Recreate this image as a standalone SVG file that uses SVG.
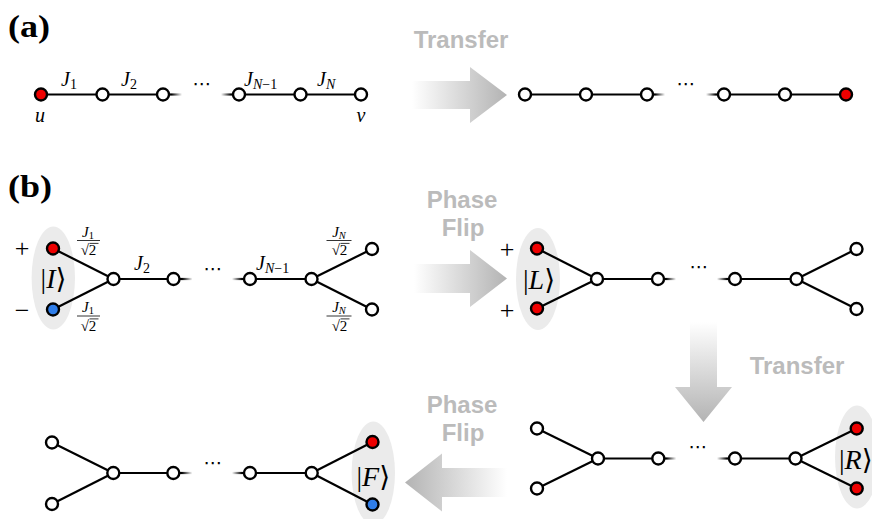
<svg xmlns="http://www.w3.org/2000/svg" width="872" height="519" viewBox="0 0 872 519">
<style>
.n{fill:#fff;stroke:#000;stroke-width:2.4}
.r{fill:#ee0000;stroke:#000;stroke-width:2.4}
.b{fill:#2f7de8;stroke:#000;stroke-width:2.4}
.e{stroke:#000;stroke-width:2.2;fill:none}
.ell{fill:#ebebeb}
.t{font-family:"Liberation Sans",Arial,sans-serif;font-weight:bold;font-size:24px;fill:#bbbbbb;text-anchor:middle}
.m{font-family:"Liberation Serif","Times New Roman","DejaVu Serif",serif;font-style:italic;fill:#000}
.rm{font-style:normal}
.lbl{font-family:"Liberation Serif","Times New Roman",serif;font-weight:bold;font-size:31px}
.dots{font-family:"DejaVu Sans",sans-serif;font-size:19px;text-anchor:middle}
.fb{stroke:#000;stroke-width:0.8}
</style>
<defs>
<linearGradient id="gRight" x1="0" y1="0" x2="1" y2="0"><stop offset="0" stop-color="#ffffff"/><stop offset="1" stop-color="#b3b3b3"/></linearGradient>
<linearGradient id="gLeft" x1="0" y1="0" x2="1" y2="0"><stop offset="0" stop-color="#b3b3b3"/><stop offset="1" stop-color="#ffffff"/></linearGradient>
<linearGradient id="gDown" x1="0" y1="0" x2="0" y2="1"><stop offset="0" stop-color="#ffffff"/><stop offset="1" stop-color="#b3b3b3"/></linearGradient>
<linearGradient id="fOut" x1="0" y1="0" x2="1" y2="0"><stop offset="0" stop-color="#000" stop-opacity="1"/><stop offset="0.45" stop-color="#000" stop-opacity="1"/><stop offset="1" stop-color="#000" stop-opacity="0"/></linearGradient>
<linearGradient id="fIn" x1="0" y1="0" x2="1" y2="0"><stop offset="0" stop-color="#000" stop-opacity="0"/><stop offset="0.55" stop-color="#000" stop-opacity="1"/><stop offset="1" stop-color="#000" stop-opacity="1"/></linearGradient>
</defs>
<rect width="872" height="519" fill="#fff"/>

<!-- panel labels -->
<text class="lbl" x="8" y="37" textLength="42" lengthAdjust="spacingAndGlyphs">(a)</text>
<text class="lbl" x="8" y="197" textLength="44" lengthAdjust="spacingAndGlyphs">(b)</text>

<!-- process arrows -->
<g id="arrows">
<polygon points="412,81 470,81 470,67 507,95 470,123 470,109 412,109" fill="url(#gRight)"/>
<polygon points="414,264 470,264 470,250 507,278.5 470,307 470,293 414,293" fill="url(#gRight)"/>
<polygon points="690,322 717,322 717,387 732,387 703.5,422 675,387 690,387" fill="url(#gDown)"/>
<polygon points="507,468 442,468 442,453.5 405,482.5 442,511.5 442,497 507,497" fill="url(#gLeft)"/>
<text class="t" x="461" y="48">Transfer</text>
<text class="t" x="462" y="208">Phase</text>
<text class="t" x="463" y="236">Flip</text>
<text class="t" x="797" y="374">Transfer</text>
<text class="t" x="462" y="413">Phase</text>
<text class="t" x="463" y="441">Flip</text>
</g>

<!-- state ellipses -->
<g id="states">
<ellipse class="ell" cx="53.3" cy="278" rx="21.7" ry="51.5"/>
<ellipse class="ell" cx="538" cy="279" rx="22" ry="51"/>
<ellipse class="ell" cx="857" cy="457" rx="22" ry="51.5"/>
<ellipse class="ell" cx="373.3" cy="473" rx="21.7" ry="51.5"/>
</g>

<!-- connectors -->
<g id="connectors">
<line class="e" x1="41" y1="94.5" x2="163" y2="94.5"/>
<rect x="163" y="93.4" width="19" height="2.2" fill="url(#fOut)"/>
<rect x="221" y="93.4" width="18" height="2.2" fill="url(#fIn)"/>
<line class="e" x1="239" y1="94.5" x2="361" y2="94.5"/>
<line class="e" x1="525" y1="94.5" x2="647" y2="94.5"/>
<rect x="647" y="93.4" width="18" height="2.2" fill="url(#fOut)"/>
<rect x="706" y="93.4" width="18" height="2.2" fill="url(#fIn)"/>
<line class="e" x1="724" y1="94.5" x2="846" y2="94.5"/>
<line class="e" x1="53" y1="248.5" x2="113.5" y2="279"/>
<line class="e" x1="53" y1="309.5" x2="113.5" y2="279"/>
<line class="e" x1="113.5" y1="279" x2="173.5" y2="279"/>
<rect x="173.5" y="277.9" width="19" height="2.2" fill="url(#fOut)"/>
<rect x="232" y="277.9" width="18" height="2.2" fill="url(#fIn)"/>
<line class="e" x1="250" y1="279" x2="311.5" y2="279"/>
<line class="e" x1="311.5" y1="279" x2="372" y2="249"/>
<line class="e" x1="311.5" y1="279" x2="372" y2="309.5"/>
<line class="e" x1="537" y1="248.5" x2="597" y2="279"/>
<line class="e" x1="537" y1="308.5" x2="597" y2="279"/>
<line class="e" x1="597" y1="279" x2="658" y2="279"/>
<rect x="658" y="277.9" width="18" height="2.2" fill="url(#fOut)"/>
<rect x="717" y="277.9" width="18" height="2.2" fill="url(#fIn)"/>
<line class="e" x1="735" y1="279" x2="796.5" y2="279"/>
<line class="e" x1="796.5" y1="279" x2="856.5" y2="249"/>
<line class="e" x1="796.5" y1="279" x2="856.5" y2="309"/>
<line class="e" x1="537" y1="428.5" x2="598" y2="458.5"/>
<line class="e" x1="537" y1="488.5" x2="598" y2="458.5"/>
<line class="e" x1="598" y1="458.5" x2="658.3" y2="458.5"/>
<rect x="658.3" y="457.4" width="18" height="2.2" fill="url(#fOut)"/>
<rect x="717" y="457.4" width="18" height="2.2" fill="url(#fIn)"/>
<line class="e" x1="735" y1="458.5" x2="795.5" y2="458.5"/>
<line class="e" x1="795.5" y1="458.5" x2="856.7" y2="428.5"/>
<line class="e" x1="795.5" y1="458.5" x2="856.7" y2="488.5"/>
<line class="e" x1="52" y1="442.5" x2="113.3" y2="473"/>
<line class="e" x1="52" y1="504" x2="113.3" y2="473"/>
<line class="e" x1="113.3" y1="473" x2="173.3" y2="473"/>
<rect x="173.3" y="471.9" width="19" height="2.2" fill="url(#fOut)"/>
<rect x="232" y="471.9" width="18" height="2.2" fill="url(#fIn)"/>
<line class="e" x1="250" y1="473" x2="311.7" y2="473"/>
<line class="e" x1="311.7" y1="473" x2="372.5" y2="442"/>
<line class="e" x1="311.7" y1="473" x2="372.5" y2="504.5"/>
</g>

<!-- nodes (a) -->
<g id="a1"><circle class="r" cx="41" cy="94.5" r="6"/></g>
<g id="a2"><circle class="n" cx="102.5" cy="94.5" r="6"/></g>
<g id="a3"><circle class="n" cx="163" cy="94.5" r="6"/></g>
<g id="a4"><circle class="n" cx="239" cy="94.5" r="6"/></g>
<g id="a5"><circle class="n" cx="300.5" cy="94.5" r="6"/></g>
<g id="a6"><circle class="n" cx="361" cy="94.5" r="6"/></g>
<g id="a7"><circle class="n" cx="525" cy="94.5" r="6"/></g>
<g id="a8"><circle class="n" cx="586" cy="94.5" r="6"/></g>
<g id="a9"><circle class="n" cx="647" cy="94.5" r="6"/></g>
<g id="a10"><circle class="n" cx="724" cy="94.5" r="6"/></g>
<g id="a11"><circle class="n" cx="785" cy="94.5" r="6"/></g>
<g id="a12"><circle class="r" cx="846" cy="94.5" r="6"/></g>

<!-- nodes (b) top-left -->
<g id="b1"><circle class="r" cx="53" cy="248.5" r="6"/></g>
<g id="b2"><circle class="b" cx="53" cy="309.5" r="6"/></g>
<g id="b3"><circle class="n" cx="113.5" cy="279" r="6"/></g>
<g id="b4"><circle class="n" cx="173.5" cy="279" r="6"/></g>
<g id="b5"><circle class="n" cx="250" cy="279" r="6"/></g>
<g id="b6"><circle class="n" cx="311.5" cy="279" r="6"/></g>
<g id="b7"><circle class="n" cx="372" cy="249" r="6"/></g>
<g id="b8"><circle class="n" cx="372" cy="309.5" r="6"/></g>

<!-- nodes (b) top-right -->
<g id="c1"><circle class="r" cx="537" cy="248.5" r="6"/></g>
<g id="c2"><circle class="r" cx="537" cy="308.5" r="6"/></g>
<g id="c3"><circle class="n" cx="597" cy="279" r="6"/></g>
<g id="c4"><circle class="n" cx="658" cy="279" r="6"/></g>
<g id="c5"><circle class="n" cx="735" cy="279" r="6"/></g>
<g id="c6"><circle class="n" cx="796.5" cy="279" r="6"/></g>
<g id="c7"><circle class="n" cx="856.5" cy="249" r="6"/></g>
<g id="c8"><circle class="n" cx="856.5" cy="309" r="6"/></g>

<!-- nodes (b) bottom-right -->
<g id="d1"><circle class="n" cx="537" cy="428.5" r="6"/></g>
<g id="d2"><circle class="n" cx="537" cy="488.5" r="6"/></g>
<g id="d3"><circle class="n" cx="598" cy="458.5" r="6"/></g>
<g id="d4"><circle class="n" cx="658.3" cy="458.5" r="6"/></g>
<g id="d5"><circle class="n" cx="735" cy="458.5" r="6"/></g>
<g id="d6"><circle class="n" cx="795.5" cy="458.5" r="6"/></g>
<g id="d7"><circle class="r" cx="856.7" cy="428.5" r="6"/></g>
<g id="d8"><circle class="r" cx="856.7" cy="488.5" r="6"/></g>

<!-- nodes (b) bottom-left -->
<g id="e1"><circle class="n" cx="52" cy="442.5" r="6"/></g>
<g id="e2"><circle class="n" cx="52" cy="504" r="6"/></g>
<g id="e3"><circle class="n" cx="113.3" cy="473" r="6"/></g>
<g id="e4"><circle class="n" cx="173.3" cy="473" r="6"/></g>
<g id="e5"><circle class="n" cx="250" cy="473" r="6"/></g>
<g id="e6"><circle class="n" cx="311.7" cy="473" r="6"/></g>
<g id="e7"><circle class="r" cx="372.5" cy="442" r="6"/></g>
<g id="e8"><circle class="b" cx="372.5" cy="504.5" r="6"/></g>

<!-- labels (a) -->
<g id="labels-a" class="m" font-size="20">
<text x="61" y="86">J<tspan class="rm" font-size="14" dy="3">1</tspan></text>
<text x="121" y="86">J<tspan class="rm" font-size="14" dy="3">2</tspan></text>
<text x="244" y="86">J<tspan font-size="14" dy="3">N</tspan><tspan class="rm" font-size="14">−1</tspan></text>
<text x="317" y="86">J<tspan font-size="14" dy="3">N</tspan></text>
<text x="40" y="122" text-anchor="middle">u</text>
<text x="361" y="122" text-anchor="middle">v</text>
</g>
<text class="dots" x="202" y="90">⋯</text>
<text class="dots" x="686" y="90">⋯</text>

<!-- labels (b) -->
<g id="labels-b" class="m" font-size="20">
<text x="134" y="270">J<tspan class="rm" font-size="14" dy="3">2</tspan></text>
<text x="256" y="270">J<tspan font-size="14" dy="3">N</tspan><tspan class="rm" font-size="14">−1</tspan></text>
</g>
<text class="dots" x="213" y="275">⋯</text>
<text class="dots" x="699" y="273">⋯</text>
<text class="dots" x="698" y="453">⋯</text>
<text class="dots" x="213" y="469">⋯</text>

<!-- fractions -->
<g id="frac" class="m" font-size="15" text-anchor="middle">
<text x="88" y="236.5">J<tspan class="rm" font-size="10.5" dy="2">1</tspan></text>
<line class="fb" x1="77" y1="240.5" x2="100" y2="240.5"/>
<text class="rm" x="88.5" y="255">√2</text>
<line class="fb" x1="89.5" y1="243.4" x2="98.5" y2="243.4"/>

<text x="88" y="312">J<tspan class="rm" font-size="10.5" dy="2">1</tspan></text>
<line class="fb" x1="77" y1="316" x2="100" y2="316"/>
<text class="rm" x="88.5" y="330.5">√2</text>
<line class="fb" x1="89.5" y1="318.9" x2="98.5" y2="318.9"/>

<text x="339" y="236.5">J<tspan font-size="10.5" dy="2">N</tspan></text>
<line class="fb" x1="326.5" y1="240.5" x2="351.5" y2="240.5"/>
<text class="rm" x="339.5" y="255">√2</text>
<line class="fb" x1="340.5" y1="243.4" x2="349.5" y2="243.4"/>

<text x="339" y="312">J<tspan font-size="10.5" dy="2">N</tspan></text>
<line class="fb" x1="326.5" y1="316" x2="351.5" y2="316"/>
<text class="rm" x="339.5" y="330.5">√2</text>
<line class="fb" x1="340.5" y1="318.9" x2="349.5" y2="318.9"/>
</g>

<!-- signs and states -->
<g id="signs" font-family="Liberation Serif, Times New Roman, serif" font-size="26" text-anchor="middle">
<text x="22" y="257">+</text>
<text x="22" y="319">−</text>
<text x="507" y="258">+</text>
<text x="507" y="319">+</text>
</g>
<g id="kets" font-family="Liberation Serif, Times New Roman, DejaVu Serif, serif" font-size="28">
<text x="53.5" y="288" text-anchor="middle">|<tspan font-style="italic">I</tspan>⟩</text>
<text x="539" y="289" text-anchor="middle">|<tspan font-style="italic">L</tspan>⟩</text>
<text x="373.3" y="486" text-anchor="middle">|<tspan font-style="italic">F</tspan>⟩</text>
<text x="839" y="469">|<tspan font-style="italic">R</tspan>⟩</text>
</g>
</svg>
